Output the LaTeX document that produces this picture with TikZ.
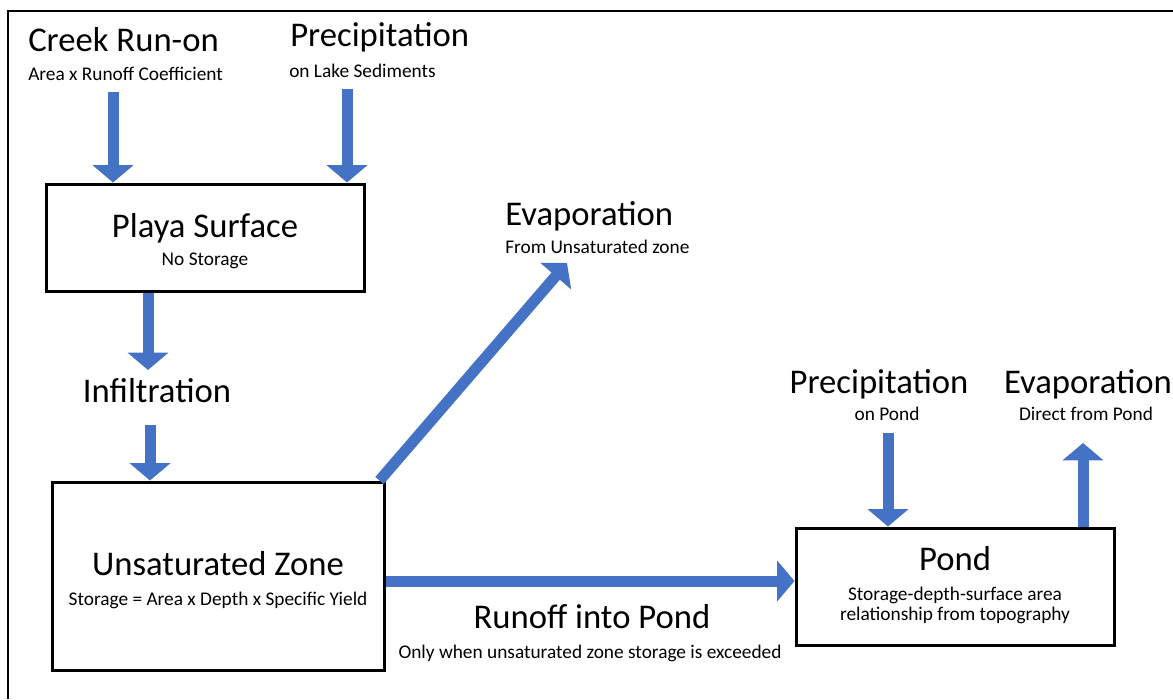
\documentclass[tikz,border=0pt]{standalone}
\usepackage{fontspec}
\setmainfont{Carlito}
\usetikzlibrary{arrows.meta}
\definecolor{flowblue}{HTML}{4472C4}

\begin{document}
\begin{tikzpicture}[x=0.75pt,y=-0.75pt,
    tank/.style={draw,line width=2.25pt,inner sep=0pt},
    big/.style={inner sep=0pt,font=\fontsize{26}{30}\selectfont},
    small/.style={inner sep=0pt,font=\fontsize{14.5}{18}\selectfont},
    flow/.style={draw=flowblue,line width=8.25pt,-{Triangle[width=30pt,length=13pt]}}]
    \useasboundingbox(0,0)rectangle(1173,699);
    \draw[line width=1.5pt](8,699)--(8,11)--(1173,11);
    \node[tank,minimum width=318*0.75pt,minimum height=107*0.75pt](playa)at(205,237.5){};
    \node[tank,minimum width=332*0.75pt,minimum height=188*0.75pt](unsat)at(218,576){};
    \node[tank,minimum width=318*0.75pt,minimum height=117*0.75pt](pond)at(955,586.5){};
    \node[big,anchor=base](playat)at(205,237){Playa Surface};
    \node[small,anchor=base](playas)at(205,265){No Storage};
    \node[big,anchor=base](unsatt)at(218,575){Unsaturated Zone};
    \node[small,anchor=base](unsats)at(218,605){Storage = Area x Depth x Specific Yield};
    \node[big,anchor=base](pondt)at(955,570){Pond};
    \node[small,anchor=base](pondsa)at(955,600){Storage-depth-surface area};
    \node[small,anchor=base](pondsb)at(955,620){relationship from topography};
    \node[big,anchor=base west](creek)at(28,52){Creek Run-on};
    \node[small,anchor=base west](creeks)at(28,80){Area x Runoff Coefficient};
    \node[big,anchor=base west](precl)at(290,47){Precipitation};
    \node[small,anchor=base west](precls)at(289,78){on Lake Sediments};
    \node[big,anchor=base west](evapu)at(505,225){Evaporation};
    \node[small,anchor=base west](evapus)at(505,253){From Unsaturated zone};
    \node[big,anchor=base](infil)at(157,402){Infiltration};
    \node[big,anchor=base](runoff)at(592,628){Runoff into Pond};
    \node[small,anchor=base](runoffs)at(590,658){Only when unsaturated zone storage is exceeded};
    \node[big,anchor=base](precp)at(879,393){Precipitation};
    \node[small,anchor=base](precps)at(887,420){on Pond};
    \node[big,anchor=base](evapp)at(1088,393){Evaporation};
    \node[small,anchor=base](evapps)at(1086,420){Direct from Pond};
    \coordinate(a1)at(113,92);
    \coordinate(a2)at(347,89);
    \coordinate(a3)at(148,370);
    \coordinate(a4)at(150,425);
    \coordinate(a5)at(567,263);
    \coordinate(a6)at([yshift=-3.75pt]unsat.east);
    \coordinate(a7)at(888,433);
    \coordinate(a8)at(1083,443);
    \draw[flow](a1)--(a1|-playa.north);
    \draw[flow](a2)--(a2|-playa.north);
    \draw[flow](a3|-playa.south)--(a3);
    \draw[flow](a4)--(a4|-unsat.north);
    \draw[flow]([xshift=-4.5pt]unsat.north east)--(a5);
    \draw[flow](a6)--(a6-|pond.west);
    \draw[flow](a7)--(a7|-pond.north);
    \draw[flow](a8|-pond.north)--(a8);
\end{tikzpicture}
\end{document}
